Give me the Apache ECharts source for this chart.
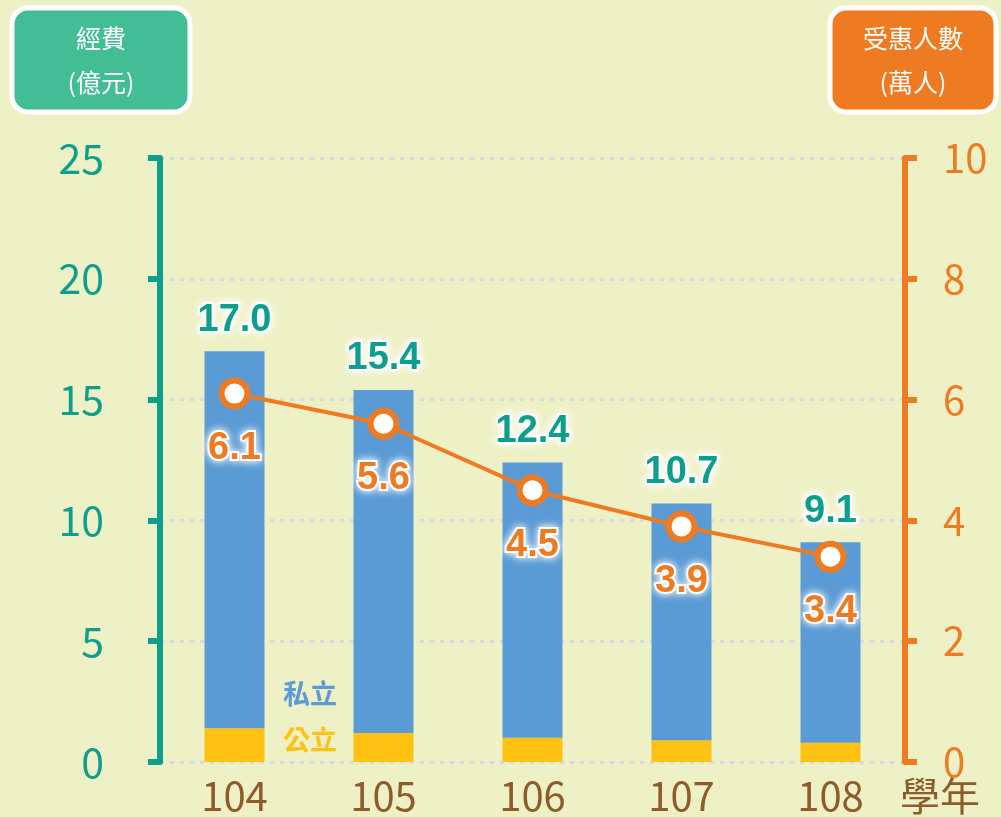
<!DOCTYPE html>
<html>
<head>
<meta charset="utf-8">
<script src="https://cdn.jsdelivr.net/npm/echarts@6/dist/echarts.min.js"></script>
<style>
  html, body { margin: 0; padding: 0; background: #eef1c5; }
  #chart { width: 1001px; height: 817px; }
</style>
</head>
<body>
<div id="chart"></div>
<script>
// data
const years = ['104', '105', '106', '107', '108']
const totalCost = [17.0, 15.4, 12.4, 10.7, 9.1]
const publicCost = [1.4, 1.2, 1.0, 0.9, 0.8]
const privateCost = [15.6, 14.2, 11.4, 9.8, 8.3]
const beneficiaries = [6.1, 5.6, 4.5, 3.9, 3.4]

const TEAL = '#0e9f8c'
const ORANGE = '#ee7b22'
const BLUE = '#5b9bd5'
const YELLOW = '#ffc112'
const BROWN = '#8f5b2b'
const FONT = '"Noto Sans CJK TC", "Noto Sans", sans-serif'
const NUM_FONT = '"Liberation Sans", Arial, sans-serif'

const chart = echarts.init(document.getElementById('chart'), null, { renderer: 'canvas' })

const valueLabel = (color) => ({
  color,
  fontSize: 38,
  fontWeight: 'bold',
  fontFamily: NUM_FONT,
  textBorderColor: '#ffffff',
  textBorderWidth: 4,
  textShadowColor: '#ffffff',
  textShadowBlur: 8,
})

const option = {
  animation: false,
  backgroundColor: '#eef1c5',
  grid: { left: 160, right: 96, top: 158, bottom: 55 },
  xAxis: {
    type: 'category',
    data: years,
    axisLine: { show: false },
    axisTick: { show: false },
    axisLabel: { color: BROWN, fontSize: 40, fontFamily: FONT, margin: 14 },
  },
  yAxis: [
    {
      type: 'value',
      min: 0, max: 25, interval: 5,
      axisLine: { show: true, lineStyle: { color: TEAL, width: 6 } },
      axisTick: { show: true, inside: false, length: 12, lineStyle: { color: TEAL, width: 6 } },
      axisLabel: { color: TEAL, fontSize: 41, fontFamily: FONT, margin: 56 },
      splitLine: { show: true, lineStyle: { color: '#d6d8e6', width: 3, type: [4, 6] } },
    },
    {
      type: 'value',
      min: 0, max: 10, interval: 2,
      position: 'right',
      axisLine: { show: true, lineStyle: { color: ORANGE, width: 6 } },
      axisTick: { show: true, inside: false, length: 12, lineStyle: { color: ORANGE, width: 6 } },
      axisLabel: { color: ORANGE, fontSize: 40, fontFamily: FONT, margin: 38 },
      splitLine: { show: false },
    },
  ],
  series: [
    {
      name: '公立',
      type: 'bar',
      stack: 'cost',
      barWidth: 60,
      data: publicCost,
      itemStyle: { color: YELLOW },
    },
    {
      name: '私立',
      type: 'bar',
      stack: 'cost',
      barWidth: 60,
      data: privateCost,
      itemStyle: { color: BLUE },
      label: {
        show: true,
        position: 'top',
        distance: 12,
        formatter: (p) => totalCost[p.dataIndex].toFixed(1),
        ...valueLabel(TEAL),
      },
    },
    {
      name: '受惠人數',
      type: 'line',
      yAxisIndex: 1,
      data: beneficiaries,
      z: 5,
      lineStyle: { color: ORANGE, width: 4 },
      symbol: 'circle',
      symbolSize: 26,
      itemStyle: { color: '#ffffff', borderColor: ORANGE, borderWidth: 6 },
      label: {
        show: true,
        position: 'bottom',
        distance: 20,
        formatter: (p) => p.value.toFixed(1),
        ...valueLabel(ORANGE),
      },
    },
  ],
  graphic: [
    {
      type: 'rect',
      shape: { x: 12, y: 8, width: 178, height: 104, r: 16 },
      style: { fill: '#43bd95', stroke: '#ffffff', lineWidth: 5 },
    },
    {
      type: 'text',
      style: { text: '經費', x: 101, y: 38, align: 'center', verticalAlign: 'middle', fill: '#ffffff', fontSize: 25, fontFamily: FONT },
    },
    {
      type: 'text',
      style: { text: '(億元)', x: 101, y: 82, align: 'center', verticalAlign: 'middle', fill: '#ffffff', fontSize: 25, fontFamily: FONT },
    },
    {
      type: 'rect',
      shape: { x: 830, y: 8, width: 166, height: 104, r: 16 },
      style: { fill: ORANGE, stroke: '#ffffff', lineWidth: 5 },
    },
    {
      type: 'text',
      style: { text: '受惠人數', x: 913, y: 38, align: 'center', verticalAlign: 'middle', fill: '#ffffff', fontSize: 25, fontFamily: FONT },
    },
    {
      type: 'text',
      style: { text: '(萬人)', x: 913, y: 82, align: 'center', verticalAlign: 'middle', fill: '#ffffff', fontSize: 25, fontFamily: FONT },
    },
    {
      type: 'text',
      style: { text: '私立', x: 310, y: 694, align: 'center', verticalAlign: 'middle', fill: BLUE, fontSize: 27, fontWeight: 'bold', fontFamily: FONT },
    },
    {
      type: 'text',
      style: { text: '公立', x: 310, y: 740, align: 'center', verticalAlign: 'middle', fill: YELLOW, fontSize: 27, fontWeight: 'bold', fontFamily: FONT },
    },
    {
      type: 'text',
      style: { text: '學年', x: 940, y: 796, align: 'center', verticalAlign: 'middle', fill: BROWN, fontSize: 40, fontFamily: FONT },
    },
  ],
}

chart.setOption(option)
</script>
</body>
</html>
